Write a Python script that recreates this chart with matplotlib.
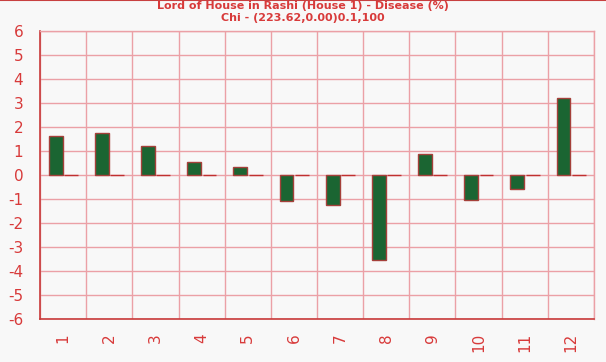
import matplotlib
matplotlib.use("Agg")
import matplotlib.pyplot as plt
import numpy as np

categories = ["1", "2", "3", "4", "5", "6", "7", "8", "9", "10", "11", "12"]
disease = [1.61, 1.74, 1.20, 0.53, 0.32, -1.10, -1.25, -3.55, 0.87, -1.04, -0.57, 3.19]
baseline = [0, 0, 0, 0, 0, 0, 0, 0, 0, 0, 0, 0]
yticks = [-6, -5, -4, -3, -2, -1, 0, 1, 2, 3, 4, 5, 6]

red = "#d83a3a"
grid_c = "#eba0a6"
bg = "#f8f8f8"

fig = plt.figure(figsize=(6.06, 3.62), dpi=100, facecolor=bg)
ax = fig.add_axes([40/606, 1-319/362, 554/606, 288/362])
ax.set_facecolor(bg)

x = np.arange(len(categories))
w = 0.30
ax.bar(x - 0.16, disease, width=w, color="#1b6532", edgecolor="#a5403a", linewidth=1.0, zorder=3)
ax.bar(x + 0.17, baseline, width=w, color="#1b6532", edgecolor="#c03030", linewidth=1.0, zorder=3)

ax.set_xlim(-0.5, len(categories) - 0.5)
ax.set_ylim(-6, 6)
ax.set_yticks(yticks)
ax.set_yticklabels([str(t) for t in yticks], color=red, fontsize=11)
ax.set_xticks(x)
ax.set_xticklabels(categories, rotation=90, color=red, fontsize=11)
ax.tick_params(axis="both", length=0, pad=10)
ax.tick_params(axis="y", pad=12)

ax.set_xticks(np.arange(len(categories) + 1) - 0.5, minor=True)
ax.grid(True, which="minor", axis="x", color=grid_c, linewidth=1.0, zorder=0)
ax.grid(True, which="major", axis="y", color=grid_c, linewidth=1.0, zorder=0)
ax.tick_params(which="minor", length=0)

for s in ["top", "right"]:
    ax.spines[s].set_color(grid_c)
    ax.spines[s].set_linewidth(1.0)
for s in ["left", "bottom"]:
    ax.spines[s].set_color("#c83a3a")
    ax.spines[s].set_linewidth(1.2)

fig.text(0.5, 1 - 6/362, "Lord of House in Rashi (House 1) - Disease (%)", ha="center", va="center",
         color=red, fontsize=8, fontweight="bold")
fig.text(0.5, 1 - 18/362, "Chi - (223.62,0.00)0.1,100", ha="center", va="center",
         color=red, fontsize=8, fontweight="bold")

# top border line
fig.add_artist(plt.Line2D([0, 1], [0.999, 0.999], color="#c84040", linewidth=1.5, transform=fig.transFigure))

fig.savefig("out.png", dpi=100, facecolor=bg)
